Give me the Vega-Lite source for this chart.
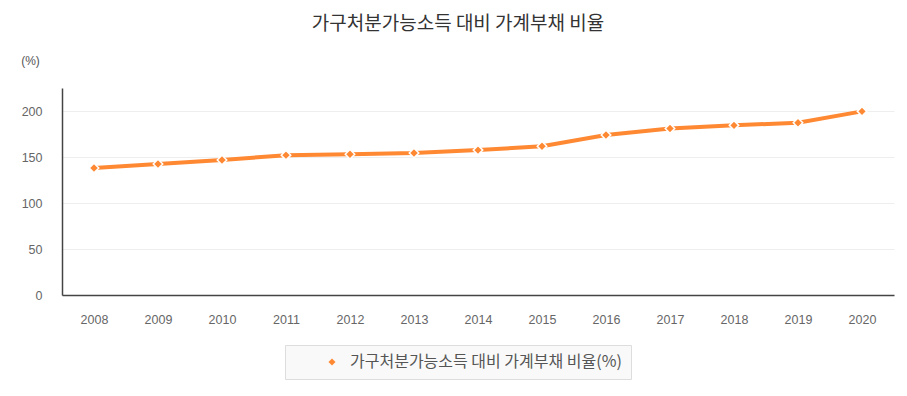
{
  "$schema": "https://vega.github.io/schema/vega-lite/v6.json",
  "autosize": "none",
  "width": 832,
  "height": 207,
  "padding": {"left": 62, "top": 88, "right": 13, "bottom": 101},
  "background": "white",
  "title": {
    "text": "가구처분가능소득 대비 가계부채 비율",
    "font": "Noto Sans CJK KR",
    "fontSize": 19,
    "fontWeight": "normal",
    "color": "#333333",
    "anchor": "middle",
    "dx": -20,
    "offset": 20
  },
  "config": {
    "view": {"stroke": null},
    "axis": {"labelFont": "Liberation Sans", "labelColor": "#666666", "labelFontSize": 12.5}
  },
  "data": {
    "values": [
      {"year": "2008", "value": 138, "series": "가구처분가능소득 대비 가계부채 비율(%)"},
      {"year": "2009", "value": 142.4, "series": "가구처분가능소득 대비 가계부채 비율(%)"},
      {"year": "2010", "value": 146.7, "series": "가구처분가능소득 대비 가계부채 비율(%)"},
      {"year": "2011", "value": 152, "series": "가구처분가능소득 대비 가계부채 비율(%)"},
      {"year": "2012", "value": 153, "series": "가구처분가능소득 대비 가계부채 비율(%)"},
      {"year": "2013", "value": 154.3, "series": "가구처분가능소득 대비 가계부채 비율(%)"},
      {"year": "2014", "value": 157.5, "series": "가구처분가능소득 대비 가계부채 비율(%)"},
      {"year": "2015", "value": 161.6, "series": "가구처분가능소득 대비 가계부채 비율(%)"},
      {"year": "2016", "value": 174, "series": "가구처분가능소득 대비 가계부채 비율(%)"},
      {"year": "2017", "value": 181, "series": "가구처분가능소득 대비 가계부채 비율(%)"},
      {"year": "2018", "value": 184.4, "series": "가구처분가능소득 대비 가계부채 비율(%)"},
      {"year": "2019", "value": 187.3, "series": "가구처분가능소득 대비 가계부채 비율(%)"},
      {"year": "2020", "value": 199.6, "series": "가구처분가능소득 대비 가계부채 비율(%)"}
    ]
  },
  "encoding": {
    "x": {
      "field": "year", "type": "ordinal",
      "scale": {"type": "point", "padding": 0.5},
      "axis": {
        "title": null, "labelAngle": 0, "ticks": false, "grid": false,
        "domainColor": "#444444", "domainWidth": 1.5, "labelPadding": 18
      }
    },
    "y": {
      "field": "value", "type": "quantitative",
      "scale": {"domain": [0, 225], "nice": false},
      "axis": {
        "title": "(%)", "titleAngle": 0, "titleX": -32, "titleY": -21,
        "titleFont": "Liberation Sans", "titleFontSize": 12, "titleFontWeight": "normal", "titleColor": "#555555",
        "values": [0, 50, 100, 150, 200], "ticks": false,
        "grid": true, "gridColor": "#eeeeee", "gridWidth": 1,
        "domainColor": "#444444", "domainWidth": 1.5, "labelPadding": 20
      }
    },
    "color": {
      "field": "series", "type": "nominal",
      "scale": {"range": ["#ff8833"]},
      "legend": {
        "title": null, "orient": "none", "legendX": 223, "legendY": 257,
        "symbolType": "diamond", "symbolSize": 50, "symbolStrokeWidth": 0,
        "labelFont": "Noto Sans CJK KR", "labelFontSize": 16, "labelColor": "#555555",
        "padding": 9, "strokeColor": "#dddddd", "fillColor": "#f9f9f9",
        "labelLimit": 400, "symbolOffset": 30, "labelOffset": 10
      }
    }
  },
  "layer": [
    {"mark": {"type": "line", "strokeWidth": 4}},
    {"mark": {"type": "point", "shape": "diamond", "filled": true, "size": 90, "stroke": "white", "strokeWidth": 1.5, "opacity": 1}}
  ]
}
